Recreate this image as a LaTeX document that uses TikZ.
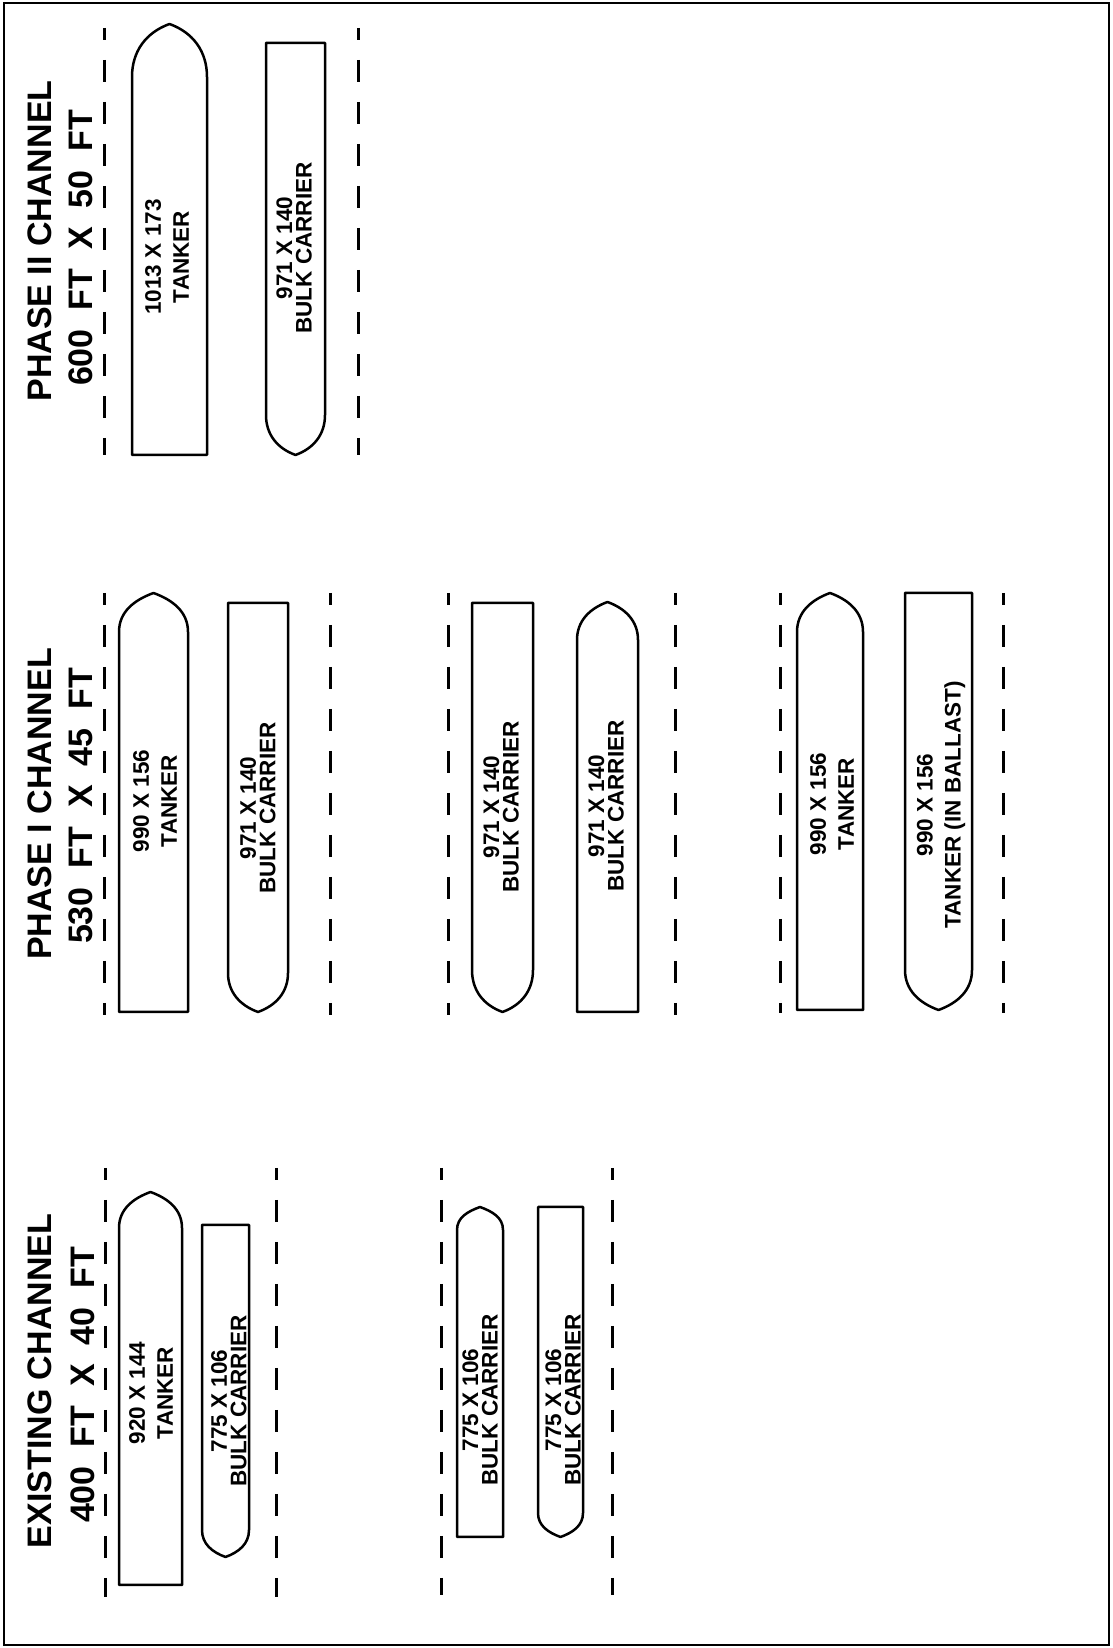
\documentclass[tikz,border=0pt]{standalone}
\usepackage{fontspec}
\setmainfont{Liberation Sans}
\newfontfamily\widefont[WordSpace=2]{Liberation Sans}

% 船形: 左x, 右x, 船首尖y, 船首起点y, 船尾y
\newcommand{\bowup}[5]{%
  \pgfmathsetmacro\shipmid{(#1+#2)/2}
  \draw[hull] (#1,#5) -- (#1,#4) to[out=90,in=200] (\shipmid,#3)
    to[out=-20,in=90] (#2,#4) -- (#2,#5) -- cycle;}
\newcommand{\bowdown}[5]{%
  \pgfmathsetmacro\shipmid{(#1+#2)/2}
  \draw[hull] (#1,#5) -- (#1,#4) to[out=-90,in=160] (\shipmid,#3)
    to[out=20,in=-90] (#2,#4) -- (#2,#5) -- cycle;}

\begin{document}
\begin{tikzpicture}[x=1pt,y=1pt,
    hull/.style={line width=2.5pt, line join=round},
    lane/.style={line width=3pt, dash pattern=on 22pt off 20pt, dash phase=10pt},
    shiplabel/.style={rotate=90, align=center, font=\fontsize{22.5}{28}\selectfont\bfseries},
    bulklabel/.style={rotate=90, align=center, font=\fontsize{22.5}{19.5}\selectfont\bfseries},
    chantitle/.style={rotate=90, font=\fontsize{34}{40}\selectfont\bfseries},
    chandims/.style={rotate=90, font=\widefont\fontsize{34}{40}\selectfont\bfseries}]
    \useasboundingbox (0,0) rectangle (1112,1648);
    % 边框
    \draw[line width=2pt] (4,3) rectangle (1109,1645);

    % 标题
    \node[chantitle] (p2title) at (40,1407) {PHASE II CHANNEL};
    \node[chandims]  (p2dims)  at (81,1400) {600 FT X 50 FT};
    \node[chantitle] (p1title) at (40,844) {PHASE I CHANNEL};
    \node[chandims]  (p1dims)  at (81,842) {530 FT X 45 FT};
    \node[chantitle] (extitle) at (40,267) {EXISTING CHANNEL};
    \node[chandims]  (exdims)  at (83,263) {400 FT X 40 FT};

    % 航道线
    \draw[lane] (104,1620) -- (104,1193);
    \draw[lane] (358,1620) -- (358,1193);
    \draw[lane] (104,1055) -- (104,633);
    \draw[lane] (330,1055) -- (330,633);
    \draw[lane] (448,1055) -- (448,633);
    \draw[lane] (675,1055) -- (675,633);
    \draw[lane] (780,1055) -- (780,635);
    \draw[lane] (1003,1055) -- (1003,635);
    \draw[lane] (105,480) -- (105,51);
    \draw[lane] (276,480) -- (276,51);
    \draw[lane] (441,480) -- (441,53);
    \draw[lane] (612,480) -- (612,53);

    % 二期航道
    \bowup{132}{207}{1624}{1571}{1193}
    \bowdown{266}{325}{1193}{1233}{1605}
    \node[shiplabel] (p2tanker) at (167,1391) {1013 X 173\\TANKER};
    \node[bulklabel] (p2bulk) at (294,1400) {971 X 140\\BULK CARRIER};

    % 一期航道
    \bowup{119}{188}{1055}{1016}{636}
    \bowdown{228}{288}{636}{675}{1045}
    \node[shiplabel] (p1tankerA) at (155,847) {990 X 156\\TANKER};
    \node[bulklabel] (p1bulkA) at (258,840) {971 X 140\\BULK CARRIER};

    \bowdown{472}{533}{636}{678}{1045}
    \bowup{577}{638}{1046}{1008}{636}
    \node[bulklabel] (p1bulkB) at (501,841) {971 X 140\\BULK CARRIER};
    \node[bulklabel] (p1bulkC) at (606,842) {971 X 140\\BULK CARRIER};

    \bowup{797}{863}{1055}{1016}{638}
    \bowdown{905}{972}{638}{678}{1055}
    \node[shiplabel] (p1tankerB) at (832,844) {990 X 156\\TANKER};
    \node[shiplabel] (p1ballast) at (941,843) {990 X 156\\TANKER (IN BALLAST)};

    % 现有航道
    \bowup{119}{182}{456}{420}{63}
    \bowdown{202}{249}{91}{118}{423}
    \node[shiplabel] (extanker) at (151,255) {920 X 144\\TANKER};
    \node[bulklabel] (exbulkA) at (229,247) {775 X 106\\BULK CARRIER};

    \bowup{457}{503}{441}{418}{111}
    \bowdown{538}{583}{111}{135}{441}
    \node[bulklabel] (exbulkB) at (480,248) {775 X 106\\BULK CARRIER};
    \node[bulklabel] (exbulkC) at (563,248) {775 X 106\\BULK CARRIER};
\end{tikzpicture}
\end{document}
